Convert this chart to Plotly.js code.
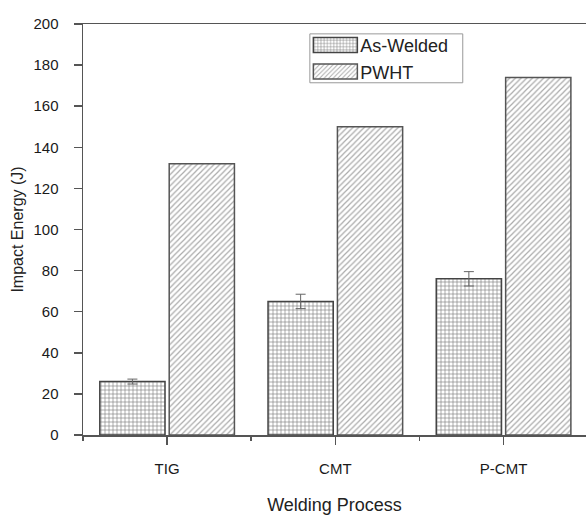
<!DOCTYPE html>
<html>
<head>
<meta charset="utf-8">
<script src="https://cdn.plot.ly/plotly-3.0.1.min.js"></script>
<style>html,body{margin:0;padding:0;background:#fff;}#chart{width:586px;height:515px;}</style>
</head>
<body>
<div id="chart"></div>
<script>
// Data
var categories = ["TIG", "CMT", "P-CMT"];
var asWelded = [26, 65, 76];
var asWeldedErr = [1.2, 3.5, 3.5];
var pwht = [132, 150, 174];
var seriesNames = ["As-Welded", "PWHT"];
var yTickVals = [0, 20, 40, 60, 80, 100, 120, 140, 160, 180, 200];

var xPos = categories.map(function (c, i) { return i; });
var font = "Liberation Sans, Arial, Helvetica, sans-serif";

var traces = [
  {
    type: "bar", name: seriesNames[0], x: xPos, y: asWelded,
    error_y: { type: "data", array: asWeldedErr, visible: true, color: "#666", thickness: 1, width: 5 },
    marker: {
      color: "#fff",
      line: { color: "#444", width: 1.5 },
      pattern: { shape: "+", size: 4, solidity: 0.3, fgcolor: "#808080", bgcolor: "#fff", fillmode: "replace" }
    }
  },
  {
    type: "bar", name: seriesNames[1], x: xPos, y: pwht,
    marker: {
      color: "#fff",
      line: { color: "#555", width: 1.5 },
      pattern: { shape: "/", size: 4, solidity: 0.3, fgcolor: "#aaa", bgcolor: "#fff", fillmode: "replace" }
    }
  }
];

var layout = {
  width: 586, height: 515,
  margin: { l: 83, r: 0, t: 24, b: 80 },
  paper_bgcolor: "#fff", plot_bgcolor: "#fff",
  font: { family: font, color: "#222", size: 15 },
  barmode: "group", bargap: 0.175, bargroupgap: 0.06,
  showlegend: true,
  legend: {
    x: 0.452, y: 0.993, xanchor: "left", yanchor: "top",
    borderwidth: 0, bgcolor: "rgba(0,0,0,0)",
    font: { family: font, size: 18, color: "#222" },
    itemwidth: 40, tracegroupgap: 0
  },
  shapes: [
    { type: "rect", xref: "paper", yref: "paper", x0: 0.451, x1: 0.755, y0: 0.857, y1: 0.976,
      line: { color: "#999", width: 1 }, fillcolor: "rgba(0,0,0,0)", layer: "below" }
  ],
  xaxis: {
    type: "linear", range: [-0.5, 2.49],
    tickmode: "array", tickvals: xPos, ticktext: categories,
    ticks: "outside", ticklen: 8, tickwidth: 1.5, tickcolor: "#555",
    minor: { tickmode: "linear", tick0: 0.5, dtick: 1, ticks: "outside", ticklen: 4, tickwidth: 1.5, tickcolor: "#555", showgrid: false },
    showline: true, linecolor: "#555", linewidth: 1.5, mirror: true,
    showgrid: false, zeroline: false,
    ticklabelstandoff: 11,
    tickfont: { family: font, size: 15, color: "#1a1a1a" },
    title: { text: "Welding Process", font: { family: font, size: 18, color: "#222" }, standoff: 24 }
  },
  yaxis: {
    range: [0, 200], tickmode: "array", tickvals: yTickVals,
    ticks: "outside", ticklen: 8, tickwidth: 1.5, tickcolor: "#555",
    showline: true, linecolor: "#555", linewidth: 1.5, mirror: false,
    showgrid: false, zeroline: false,
    ticklabelstandoff: 12,
    tickfont: { family: font, size: 15, color: "#1a1a1a" },
    title: { text: "Impact Energy (J)", font: { family: font, size: 16, color: "#222" }, standoff: 6 }
  }
};

Plotly.newPlot("chart", traces, layout, { staticPlot: true, displayModeBar: false }).then(function (gd) {
  // widen the legend swatches to the reference's rectangular keys
  var paths = gd.querySelectorAll(".legend .legendpoints path");
  paths.forEach(function (p) {
    p.setAttribute("d", "M22,7.5H-22V-7.5H22Z");
  });
});
</script>
</body>
</html>
